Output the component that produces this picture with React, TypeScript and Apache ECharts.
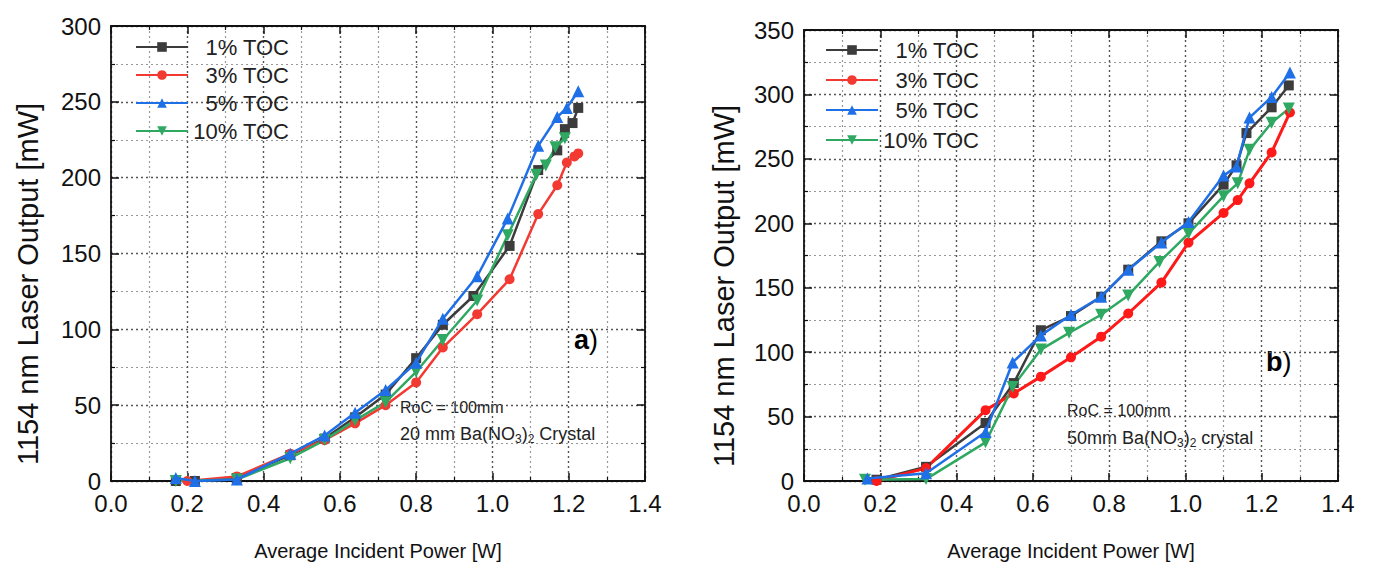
import React, { useEffect, useRef } from "react";
import * as echarts from "echarts";

// ---- Data: chart (a) 20 mm crystal ----
const seriesNames = ["1% TOC", "3% TOC", "5% TOC", "10% TOC"];
const a1X = [0.17, 0.22, 0.33, 0.47, 0.56, 0.64, 0.72, 0.8, 0.87, 0.95, 1.045, 1.12, 1.17, 1.19, 1.21, 1.225];
const a1Y = [0, 0, 2, 17, 28, 42, 57, 81, 103, 122, 155, 205, 218, 232, 236, 246];
const a3X = [0.2, 0.33, 0.47, 0.56, 0.64, 0.72, 0.8, 0.87, 0.96, 1.045, 1.12, 1.17, 1.195, 1.215, 1.225];
const a3Y = [0, 3, 18, 27, 38, 50, 65, 88, 110, 133, 176, 195, 210, 214, 216];
const a5X = [0.17, 0.22, 0.33, 0.47, 0.56, 0.64, 0.72, 0.8, 0.87, 0.96, 1.04, 1.12, 1.17, 1.195, 1.225];
const a5Y = [2, 0, 1, 18, 30, 45, 60, 78, 107, 135, 173, 221, 240, 246, 257];
const a10X = [0.17, 0.33, 0.47, 0.56, 0.64, 0.72, 0.8, 0.87, 0.96, 1.04, 1.115, 1.14, 1.165, 1.19];
const a10Y = [0, 1, 15, 27, 40, 52, 72, 93, 119, 162, 202, 208, 220, 226];

// ---- Data: chart (b) 50 mm crystal ----
const b1X = [0.19, 0.32, 0.476, 0.55, 0.621, 0.7, 0.779, 0.85, 0.937, 1.008, 1.1, 1.134, 1.16, 1.226, 1.271];
const b1Y = [1, 11, 45, 76, 117, 128, 143, 164, 186, 200, 230, 245, 270, 290, 307];
const b3X = [0.19, 0.32, 0.476, 0.55, 0.621, 0.7, 0.779, 0.85, 0.937, 1.008, 1.1, 1.137, 1.168, 1.226, 1.274];
const b3Y = [0, 10, 55, 68, 81, 96, 112, 130, 154, 185, 208, 218, 231, 255, 286];
const b5X = [0.166, 0.32, 0.476, 0.547, 0.621, 0.7, 0.779, 0.85, 0.937, 1.008, 1.1, 1.134, 1.168, 1.226, 1.274];
const b5Y = [2, 6, 38, 92, 113, 129, 143, 164, 185, 201, 237, 244, 282, 298, 317];
const b10X = [0.16, 0.32, 0.476, 0.547, 0.621, 0.695, 0.779, 0.85, 0.932, 1.008, 1.1, 1.137, 1.168, 1.226, 1.271];
const b10Y = [1, 1.5, 30, 73, 102, 115, 129, 144, 170, 192, 221, 231, 257, 278, 289];

const xTickLabels = ["0.0", "0.2", "0.4", "0.6", "0.8", "1.0", "1.2", "1.4"];
const xAxisTitle = "Average Incident Power [W]";
const yAxisTitle = "1154 nm Laser Output [mW]";

const FONT = "Liberation Sans, Arial, sans-serif";
const colorsA = ["#3c3c3c", "#f23a32", "#1f6fe6", "#2fa862"];
const colorsB = ["#3c3c3c", "#ff1a1a", "#1f6fe6", "#2fa862"];
const symbols = ["rect", "circle", "triangle", "triangle"];
const rotations = [0, 0, 0, 180];
const symbolSizes = [10, 10, 12, 12];

const zip = (xs: number[], ys: number[]) => xs.map((x, i) => [x, ys[i]]);

function axisPair(gridIndex: number, isX: boolean, max: number, interval: number, labels: boolean, name: string, nameGap: number, position: string) {
  return {
    type: "value",
    gridIndex,
    position,
    min: 0,
    max,
    interval,
    name: labels ? name : "",
    nameLocation: "middle",
    nameGap,
    nameTextStyle: { fontFamily: FONT, fontSize: 20, color: "#111" },
    axisLine: { show: true, onZero: false, lineStyle: { color: "#111", width: 1.8 } },
    axisTick: { show: true, inside: true, length: 8, lineStyle: { color: "#111", width: 1.5 } },
    minorTick: { show: true, splitNumber: 2, length: 4, lineStyle: { color: "#111", width: 1.2 } },
    axisLabel: {
      show: labels,
      fontFamily: FONT,
      fontSize: 24,
      color: "#111",
      margin: 10,
      formatter: isX ? (v: number) => xTickLabels[Math.round(v / 0.2)] ?? "" : (v: number) => String(v),
    },
    splitLine: labels
      ? { show: true, lineStyle: { color: "#555", type: [2, 3], width: 1.4 } }
      : { show: false },
    minorSplitLine: labels
      ? { show: true, lineStyle: { color: "#999", type: [2, 3], width: 1.2 } }
      : { show: false },
  };
}

function makeSeries(xIdx: number, yIdx: number, data: number[][][], widths: number[], colors: string[]) {
  return data.map((d, i) => ({
    name: seriesNames[i],
    type: "line",
    xAxisIndex: xIdx,
    yAxisIndex: yIdx,
    data: d,
    symbol: symbols[i],
    symbolSize: symbolSizes[i],
    symbolRotate: rotations[i],
    showAllSymbol: true,
    color: colors[i],
    lineStyle: { width: widths[i], color: colors[i] },
    itemStyle: { color: colors[i] },
    z: 3 + (i === 2 ? 1 : 0),
  }));
}

function legend(left: number, top: number, gap: number) {
  return {
    show: true,
    orient: "vertical",
    left,
    top,
    itemWidth: 52,
    itemHeight: 12,
    itemGap: gap,
    data: seriesNames,
    selectedMode: false,
    formatter: (n: string) => `{r|${n}}`,
    textStyle: {
      fontFamily: FONT,
      fontSize: 22,
      color: "#222",
      rich: { r: { width: 96, align: "right", fontFamily: FONT, fontSize: 22, color: "#222" } },
    },
  };
}

export default function App() {
  const ref = useRef<HTMLDivElement>(null);
  useEffect(() => {
    if (!ref.current) return;
    const chart = echarts.init(ref.current, undefined, { renderer: "svg" });
    const subStyle = { fontSize: 12, fontFamily: FONT, color: "#222", padding: [10, 0, 0, 0] };
    const annStyle = { fontFamily: FONT, fontSize: 16, fill: "#222" };
    const annStyle2 = { fontFamily: FONT, fontSize: 18, fill: "#222" };
    const yNameStyle = { fontFamily: FONT, fontSize: 29, fill: "#111", align: "center", verticalAlign: "middle" };
    const label = (txt: string) => ({
      text: txt,
      rich: {
        b: { fontFamily: FONT, fontSize: 27, fontWeight: "bold", color: "#111" },
        n: { fontFamily: FONT, fontSize: 27, color: "#111" },
      },
    });
    chart.setOption({
      animation: false,
      backgroundColor: "#fff",
      grid: [
        { left: 111, top: 26, width: 534, height: 455, show: false },
        { left: 804, top: 30, width: 534, height: 451, show: false },
      ],
      xAxis: [
        axisPair(0, true, 1.4, 0.2, true, xAxisTitle, 60, "bottom"),
        axisPair(0, true, 1.4, 0.2, false, "", 0, "top"),
        axisPair(1, true, 1.4, 0.2, true, xAxisTitle, 60, "bottom"),
        axisPair(1, true, 1.4, 0.2, false, "", 0, "top"),
      ],
      yAxis: [
        axisPair(0, false, 300, 50, true, "", 0, "left"),
        axisPair(0, false, 300, 50, false, "", 0, "right"),
        axisPair(1, false, 350, 50, true, "", 0, "left"),
        axisPair(1, false, 350, 50, false, "", 0, "right"),
      ],
      legend: [legend(130, 31, 6), legend(820, 34, 8)],
      series: [
        ...makeSeries(0, 0, [zip(a1X, a1Y), zip(a3X, a3Y), zip(a5X, a5Y), zip(a10X, a10Y)], [2.5, 2.5, 2.5, 2.5], colorsA),
        ...makeSeries(2, 2, [zip(b1X, b1Y), zip(b3X, b3Y), zip(b5X, b5Y), zip(b10X, b10Y)], [2.5, 3, 2.5, 2.5], colorsB),
      ],
      graphic: [
        { type: "text", x: 28, y: 284, rotation: Math.PI / 2, style: { ...yNameStyle, text: yAxisTitle } },
        { type: "text", x: 724, y: 286, rotation: Math.PI / 2, style: { ...yNameStyle, text: yAxisTitle } },
        { type: "text", left: 400, top: 399, style: { ...annStyle, text: "RoC = 100mm" } },
        {
          type: "text",
          left: 400,
          top: 425,
          style: { ...annStyle2, text: "20 mm Ba(NO{s|3}){s|2} Crystal", rich: { s: subStyle } },
        },
        { type: "text", left: 1067, top: 402, style: { ...annStyle, text: "RoC = 100mm" } },
        {
          type: "text",
          left: 1067,
          top: 429,
          style: { ...annStyle2, text: "50mm Ba(NO{s|3}){s|2} crystal", rich: { s: subStyle } },
        },
        { type: "text", left: 574, top: 326, style: label("{b|a}{n|)}") },
        { type: "text", left: 1266, top: 348, style: label("{b|b}{n|)}") },
      ],
    });
    return () => chart.dispose();
  }, []);
  return (
    <div
      ref={ref}
      style={{ position: "fixed", left: 0, top: 0, width: 1374, height: 581, background: "#fff" }}
    />
  );
}
